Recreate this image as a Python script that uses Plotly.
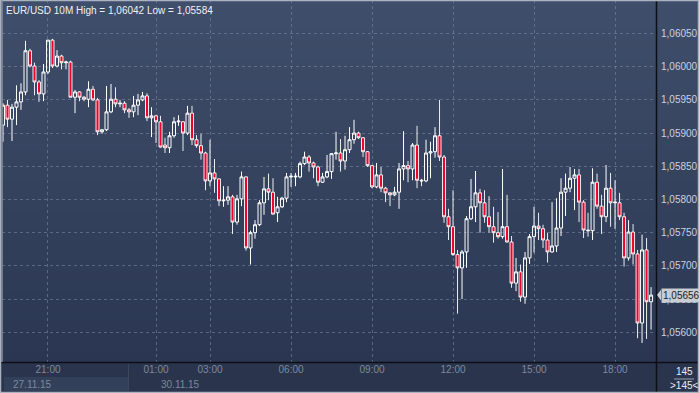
import plotly.graph_objects as go

# ---- data (EUR/USD 10-minute candles) ----
opens = [1.05912,1.05942,1.05921,1.05939,1.05947,1.05962,1.06024,1.06001,1.05977,1.05959,
         1.05992,1.06040,1.06001,1.06016,1.06006,1.06007,1.05954,1.05962,1.05954,1.05951,
         1.05966,1.05950,1.05902,1.05905,1.05932,1.05951,1.05944,1.05945,1.05935,1.05932,
         1.05942,1.05950,1.05956,1.05923,1.05926,1.05917,1.05882,1.05878,1.05896,1.05917,
         1.05917,1.05900,1.05930,1.05890,1.05881,1.05870,1.05828,1.05840,1.05831,1.05798,
         1.05799,1.05804,1.05766,1.05801,1.05834,1.05727,1.05750,1.05762,1.05795,1.05816,
         1.05811,1.05780,1.05789,1.05802,1.05834,1.05834,1.05834,1.05854,1.05864,1.05855,
         1.05849,1.05826,1.05834,1.05842,1.05869,1.05870,1.05858,1.05875,1.05890,1.05900,
         1.05893,1.05872,1.05851,1.05819,1.05837,1.05817,1.05810,1.05807,1.05811,1.05846,
         1.05851,1.05846,1.05882,1.05829,1.05828,1.05870,1.05872,1.05896,1.05864,1.05774,
         1.05759,1.05717,1.05697,1.05721,1.05771,1.05789,1.05810,1.05795,1.05774,1.05759,
         1.05750,1.05744,1.05759,1.05736,1.05674,1.05691,1.05653,1.05712,1.05744,1.05760,
         1.05756,1.05739,1.05721,1.05730,1.05757,1.05811,1.05817,1.05832,1.05837,1.05796,
         1.05754,1.05753,1.05826,1.05790,1.05774,1.05817,1.05795,1.05795,1.05774,1.05712,
         1.05751,1.05718,1.05614,1.05724,1.05646]
highs = [1.05945,1.05950,1.05944,1.05972,1.05975,1.06039,1.06027,1.06006,1.05980,1.06004,
         1.06040,1.06042,1.06025,1.06018,1.06009,1.06009,1.05965,1.05963,1.05956,1.05978,
         1.05971,1.05953,1.05906,1.05971,1.05974,1.05969,1.05950,1.05948,1.05938,1.05956,
         1.05959,1.05962,1.05960,1.05939,1.05927,1.05926,1.05893,1.05902,1.05924,1.05927,
         1.05918,1.05941,1.05941,1.05897,1.05899,1.05872,1.05890,1.05861,1.05832,1.05820,
         1.05820,1.05807,1.05807,1.05842,1.05835,1.05753,1.05769,1.05799,1.05834,1.05839,
         1.05832,1.05804,1.05804,1.05840,1.05840,1.05840,1.05857,1.05872,1.05867,1.05857,
         1.05851,1.05840,1.05867,1.05870,1.05902,1.05891,1.05896,1.05909,1.05920,1.05902,
         1.05894,1.05873,1.05852,1.05855,1.05849,1.05819,1.05811,1.05819,1.05855,1.05903,
         1.05858,1.05885,1.05911,1.05831,1.05890,1.05887,1.05909,1.05950,1.05867,1.05786,
         1.05814,1.05724,1.05724,1.05775,1.05831,1.05843,1.05816,1.05814,1.05805,1.05789,
         1.05781,1.05846,1.05807,1.05745,1.05712,1.05702,1.05721,1.05748,1.05789,1.05780,
         1.05762,1.05750,1.05796,1.05802,1.05832,1.05839,1.05849,1.05846,1.05846,1.05799,
         1.05780,1.05847,1.05839,1.05807,1.05852,1.05840,1.05829,1.05810,1.05780,1.05769,
         1.05763,1.05724,1.05747,1.05742,1.05668]
lows = [1.05887,1.05909,1.05888,1.05912,1.05935,1.05957,1.05999,1.05957,1.05947,1.05948,
        1.05989,1.05998,1.05999,1.05996,1.05996,1.05954,1.05930,1.05948,1.05948,1.05939,
        1.05948,1.05897,1.05899,1.05903,1.05930,1.05939,1.05939,1.05930,1.05923,1.05924,
        1.05927,1.05948,1.05918,1.05894,1.05885,1.05878,1.05870,1.05870,1.05893,1.05911,
        1.05873,1.05897,1.05882,1.05878,1.05860,1.05814,1.05820,1.05810,1.05790,1.05789,
        1.05792,1.05748,1.05762,1.05790,1.05723,1.05702,1.05741,1.05760,1.05777,1.05799,
        1.05777,1.05766,1.05787,1.05796,1.05819,1.05820,1.05832,1.05852,1.05842,1.05832,
        1.05820,1.05825,1.05832,1.05831,1.05860,1.05842,1.05845,1.05870,1.05884,1.05891,
        1.05864,1.05849,1.05817,1.05817,1.05811,1.05796,1.05790,1.05805,1.05786,1.05829,
        1.05826,1.05829,1.05817,1.05820,1.05826,1.05832,1.05863,1.05858,1.05765,1.05739,
        1.05715,1.05628,1.05650,1.05697,1.05769,1.05766,1.05750,1.05765,1.05750,1.05735,
        1.05741,1.05741,1.05735,1.05667,1.05662,1.05646,1.05643,1.05703,1.05720,1.05739,
        1.05727,1.05705,1.05720,1.05721,1.05745,1.05775,1.05811,1.05784,1.05766,1.05742,
        1.05744,1.05739,1.05786,1.05748,1.05766,1.05759,1.05756,1.05769,1.05699,1.05708,
        1.05702,1.05591,1.05584,1.05590,1.05604]
closes = [1.05942,1.05921,1.05939,1.05947,1.05962,1.06024,1.06001,1.05977,1.05959,1.05992,
          1.06040,1.06001,1.06016,1.06006,1.06007,1.05954,1.05962,1.05954,1.05951,1.05966,
          1.05950,1.05902,1.05905,1.05932,1.05951,1.05944,1.05945,1.05935,1.05932,1.05942,
          1.05950,1.05956,1.05923,1.05926,1.05917,1.05879,1.05878,1.05896,1.05917,1.05918,
          1.05900,1.05930,1.05890,1.05881,1.05870,1.05828,1.05840,1.05831,1.05798,1.05799,
          1.05804,1.05766,1.05801,1.05834,1.05727,1.05750,1.05762,1.05795,1.05816,1.05811,
          1.05778,1.05789,1.05802,1.05834,1.05835,1.05835,1.05854,1.05864,1.05855,1.05849,
          1.05826,1.05834,1.05842,1.05869,1.05870,1.05858,1.05875,1.05890,1.05900,1.05893,
          1.05872,1.05851,1.05819,1.05837,1.05817,1.05810,1.05807,1.05811,1.05846,1.05851,
          1.05846,1.05882,1.05829,1.05828,1.05870,1.05872,1.05896,1.05864,1.05774,1.05759,
          1.05717,1.05697,1.05721,1.05771,1.05789,1.05810,1.05795,1.05774,1.05759,1.05750,
          1.05744,1.05759,1.05736,1.05674,1.05691,1.05653,1.05712,1.05744,1.05760,1.05756,
          1.05739,1.05721,1.05730,1.05757,1.05811,1.05817,1.05832,1.05837,1.05796,1.05754,
          1.05753,1.05826,1.05790,1.05774,1.05817,1.05795,1.05796,1.05774,1.05712,1.05751,
          1.05718,1.05614,1.05724,1.05646,1.05656]

time_tick_idx = [10, 34, 46, 64, 82, 100, 118, 136]
time_tick_txt = ["21:00", "01:00", "03:00", "06:00", "09:00", "12:00", "15:00", "18:00"]
date_labels = ["27.11.15", "30.11.15"]
price_ticks = [1.0560, 1.0565, 1.0570, 1.0575, 1.0580, 1.0585, 1.0590, 1.0595, 1.0600, 1.0605]
price_tick_txt = [f"{v:.5f}".replace(".", ",") for v in price_ticks]

n = len(closes)
idx = list(range(n))

# ---- geometry helpers (pixel -> paper) ----
W, H = 699, 393
ML, MR, MT, MB = 2, 43, 0, 31
PW, PH = W - ML - MR, H - MT - MB
def px(x):
    return (x - ML) / PW
def py(y):
    return (MT + PH - y) / PH

FONT = "Arial, Liberation Sans, sans-serif"
FS = 10

fig = go.Figure()
fig.add_trace(go.Candlestick(
    x=idx, open=opens, high=highs, low=lows, close=closes,
    increasing=dict(line=dict(color="#ffffff", width=1), fillcolor="rgba(0,0,0,0)"),
    decreasing=dict(line=dict(color="#ffffff", width=0.9), fillcolor="#f0002a"),
    whiskerwidth=0, showlegend=False, hoverinfo="skip",
))

shapes = []
# vertical gradient background (plot + right panel)
top = (63, 78, 106)
bot = (43, 55, 82)
NB = 36
for k in range(NB):
    t = k / (NB - 1)
    c = tuple(int(round(top[j] + (bot[j] - top[j]) * t)) for j in range(3))
    shapes.append(dict(type="rect", xref="paper", yref="paper", layer="below",
                       x0=px(0), x1=px(W), y0=py(PH * (k + 1) / NB + 0.5), y1=py(PH * k / NB - 0.5),
                       line=dict(width=0), fillcolor=f"rgb{c}"))
# bottom panel
shapes.append(dict(type="rect", xref="paper", yref="paper", layer="below",
                   x0=px(0), x1=px(W), y0=py(H), y1=py(PH),
                   line=dict(width=0), fillcolor="#2a354d"))
# date boxes
shapes.append(dict(type="rect", xref="paper", yref="paper", layer="below",
                   x0=px(4), x1=px(128), y0=py(391), y1=py(377),
                   line=dict(width=0), fillcolor="#33405a"))
shapes.append(dict(type="line", xref="paper", yref="paper", layer="below",
                   x0=px(128.5), x1=px(128.5), y0=py(391), y1=py(364),
                   line=dict(width=1, color="#3a4762")))
# separators
shapes.append(dict(type="line", xref="paper", yref="paper",
                   x0=px(0), x1=px(W), y0=py(PH + 0.5), y1=py(PH + 0.5),
                   line=dict(width=1.5, color="#0c0f16")))
shapes.append(dict(type="line", xref="paper", yref="paper",
                   x0=px(ML + PW + 0.5), x1=px(ML + PW + 0.5), y0=py(0), y1=py(H),
                   line=dict(width=1.5, color="#0c0f16")))
shapes.append(dict(type="line", xref="paper", yref="paper",
                   x0=px(674), x1=px(694), y0=py(379), y1=py(379),
                   line=dict(width=1, color="#9aa4b5")))
# outer frame
shapes.append(dict(type="rect", xref="paper", yref="paper",
                   x0=px(0.5), x1=px(W - 0.5), y0=py(H - 0.5), y1=py(0.5),
                   line=dict(width=1.5, color="#aab2bf"), fillcolor="rgba(0,0,0,0)"))
shapes.append(dict(type="line", xref="paper", yref="paper",
                   x0=px(2), x1=px(2), y0=py(PH), y1=py(0),
                   line=dict(width=1.5, color="#8a93a3")))
# current price marker
last = closes[-1]
shapes.append(dict(type="path", xref="paper", yref="y",
                   path=f"M {px(657)},{last} L {px(661)},{last + 0.00008} L {px(661)},{last - 0.00008} Z",
                   line=dict(width=0), fillcolor="#c8ccd3"))

annotations = []
annotations.append(dict(xref="paper", yref="y", x=px(660.5), y=last, xanchor="left", yanchor="middle",
                        text=f"{last:.5f}".replace(".", ","), showarrow=False,
                        bgcolor="#c8ccd3", borderpad=1,
                        font=dict(family=FONT, size=FS, color="#1b1f27")))
hi = max(highs)
lo = min(lows)
annotations.append(dict(xref="paper", yref="paper", x=px(4), y=py(11), xanchor="left", yanchor="middle",
                        text=f"EUR/USD 10M High = {hi:.5f}".replace(".", ",") + f" Low = {lo:.5f}".replace(".", ","),
                        showarrow=False,
                        font=dict(family=FONT, size=FS, color="#eef1f5")))
for txt, xpix in zip(date_labels, [11, 159]):
    annotations.append(dict(xref="paper", yref="paper", x=px(xpix), y=py(384.5), xanchor="left", yanchor="middle",
                            text=txt, showarrow=False,
                            font=dict(family=FONT, size=FS, color="#7d889c")))
annotations.append(dict(xref="paper", yref="paper", x=px(684), y=py(371), xanchor="center", yanchor="middle",
                        text=str(n), showarrow=False,
                        font=dict(family=FONT, size=FS, color="#e8ecf2")))
annotations.append(dict(xref="paper", yref="paper", x=px(684), y=py(385), xanchor="center", yanchor="middle",
                        text=f"&gt;{n}&lt;", showarrow=False,
                        font=dict(family=FONT, size=FS, color="#e8ecf2")))

fig.update_layout(
    width=W, height=H,
    margin=dict(l=ML, r=MR, t=MT, b=MB, pad=0),
    paper_bgcolor="#2e3a52",
    plot_bgcolor="rgba(0,0,0,0)",
    boxgap=0.05,
    shapes=shapes,
    annotations=annotations,
    showlegend=False,
    xaxis=dict(range=[-0.22, 145.1], rangeslider=dict(visible=False),
               tickmode="array", tickvals=time_tick_idx, ticktext=time_tick_txt,
               showgrid=True, gridcolor="rgba(125,140,165,0.55)", griddash="3px,3px", gridwidth=1,
               zeroline=False, showline=False, ticks="",
               tickfont=dict(family=FONT, size=FS, color="#7d889c"),
               fixedrange=True),
    yaxis=dict(range=[1.0555525, 1.0610045], side="right",
               tickmode="array", tickvals=price_ticks, ticktext=price_tick_txt,
               showgrid=True, gridcolor="rgba(125,140,165,0.55)", griddash="3px,3px", gridwidth=1,
               zeroline=False, showline=False, ticks="", ticklabelstandoff=4,
               tickfont=dict(family=FONT, size=FS, color="#c9d2e0"),
               fixedrange=True),
)

fig.write_html("out.html", config={"displayModeBar": False},
               post_script="document.body.style.margin='0';document.body.style.overflow='hidden';")
